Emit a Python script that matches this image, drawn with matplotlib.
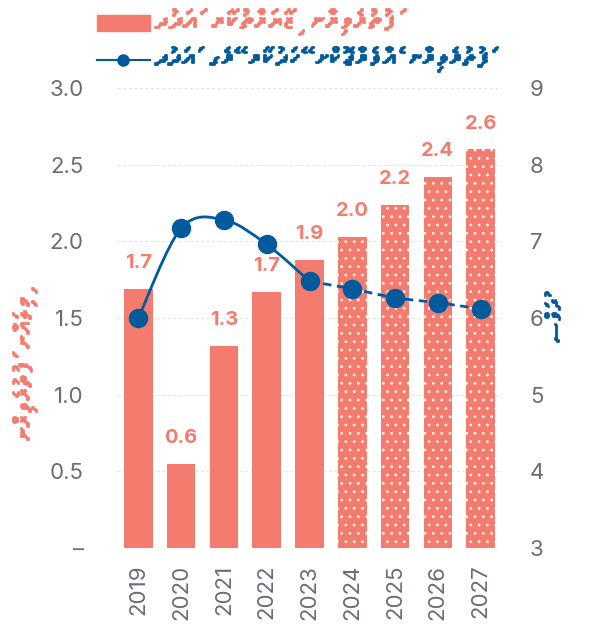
import numpy as np
import matplotlib
matplotlib.use("Agg")
import matplotlib.pyplot as plt
import matplotlib.patheffects as pe
from matplotlib import font_manager
from matplotlib.ft2font import FT2Font
from matplotlib.path import Path
from matplotlib.patches import PathPatch, Rectangle
from matplotlib.lines import Line2D

years = ["2019", "2020", "2021", "2022", "2023", "2024", "2025", "2026", "2027"]
arrivals = [1.69, 0.55, 1.32, 1.67, 1.88, 2.03, 2.24, 2.42, 2.60]
arrival_labels = ["1.7", "0.6", "1.3", "1.7", "1.9", "2.0", "2.2", "2.4", "2.6"]
stay_days = [6.0, 7.17, 7.28, 6.96, 6.48, 6.38, 6.26, 6.2, 6.12]
n_actual = 5  # 2019-2023 actual, rest projected

left_ticks = [0, 0.5, 1.0, 1.5, 2.0, 2.5, 3.0]
left_ticklabels = ["–", "0.5", "1.0", "1.5", "2.0", "2.5", "3.0"]
right_ticks = [3, 4, 5, 6, 7, 8, 9]

legend_bars = "ފަތުރުވެރިން ޒިޔާރަތްކުރާ އަދަދު"
legend_line = "ފަތުރުވެރިން އެވްރެޖްކޮށް ހޭދަކުރާ ރޭގެ އަދަދު"
left_label = "މިލިއަން ފަތުރުވެރިން"
right_label = "ދުވަސް"

BAR = "#F47C6E"
BLUE = "#005A9C"
GRAY = "#6B6A78"


def thaana_font():
    for f in font_manager.fontManager.ttflist:
        try:
            if 0x0786 in FT2Font(f.fname).get_charmap():
                return f.name
        except Exception:
            pass
    return "DejaVu Sans"


def rtl(s):
    # reverse base letters for display, keeping each vowel mark with its letter
    clusters = []
    for ch in s:
        if 0x07A6 <= ord(ch) <= 0x07B0 and clusters:
            clusters[-1] += ch
        else:
            clusters.append(ch)
    return "".join(reversed(clusters))


def thick(color):
    return [pe.withStroke(linewidth=1.3, foreground=color)]


tfont = thaana_font()
plt.rcParams["font.family"] = ["Inter", "DejaVu Sans"]
plt.rcParams["hatch.linewidth"] = 0.7
thaana = [tfont, "DejaVu Sans"]

fig = plt.figure(figsize=(5.97, 6.30), dpi=100)
ax = fig.add_axes([117 / 597, 1 - 548 / 630, 385 / 597, 460 / 630])
ax2 = ax.twinx()

x = np.arange(len(years))
for i in range(len(years)):
    if i < n_actual:
        ax.bar(x[i], arrivals[i], width=0.67, color=BAR, linewidth=0, zorder=2)
    else:
        ax.bar(x[i], arrivals[i], width=0.67, color=BAR, edgecolor="white",
               linewidth=0, hatch="..", zorder=2)
    ax.annotate(arrival_labels[i], (x[i], arrivals[i]), xytext=(0, 12),
                textcoords="offset points", ha="center", va="bottom",
                color=BAR, fontsize=14.5, fontweight="bold")

ax.set_xlim(-0.5, len(years) - 0.5)
ax.set_ylim(0, 3)
ax.set_yticks(left_ticks)
ax.set_yticklabels(left_ticklabels)
ax.set_xticks(x)
ax.set_xticklabels(years, rotation=90)
ax.grid(axis="y", color="#e4e4e4", linestyle=(0, (3, 2)), linewidth=0.8, zorder=0)
ax.set_axisbelow(True)

for a in (ax, ax2):
    for s in a.spines.values():
        s.set_visible(False)
    a.tick_params(length=0, colors=GRAY, labelsize=16)
ax.tick_params(axis="y", pad=24)
ax.tick_params(axis="x", pad=12)

ax2.set_ylim(3, 9)
ax2.set_yticks(right_ticks)
ax2.tick_params(axis="y", pad=20)

# smooth solid line through the actual years (catmull-rom as bezier)
pts = list(zip(x[:n_actual], stay_days[:n_actual]))
verts = [pts[0]]
codes = [Path.MOVETO]
for i in range(len(pts) - 1):
    p0 = np.array(pts[max(i - 1, 0)])
    p1 = np.array(pts[i])
    p2 = np.array(pts[i + 1])
    p3 = np.array(pts[min(i + 2, len(pts) - 1)])
    verts += [tuple(p1 + (p2 - p0) / 6), tuple(p2 - (p3 - p1) / 6), tuple(p2)]
    codes += [Path.CURVE4] * 3
ax2.add_patch(PathPatch(Path(verts, codes), facecolor="none", edgecolor=BLUE,
                        linewidth=2, zorder=3))
ax2.plot(x[n_actual - 1:], stay_days[n_actual - 1:], color=BLUE, linewidth=2,
         linestyle=(0, (3, 2)), zorder=3)
ax2.plot(x, stay_days, linestyle="none", marker="o", markersize=13,
         color=BLUE, zorder=4)

# axis titles
W, H = 597, 630
fig.text(25 / W, 1 - 367 / H, rtl(left_label), family=thaana, color=BAR,
         fontsize=19, rotation=90, ha="center", va="center", path_effects=thick(BAR))
fig.text(557 / W, 1 - 321 / H, rtl(right_label), family=thaana, color=BLUE,
         fontsize=16, rotation=90, ha="center", va="center", path_effects=thick(BLUE))

# legend, drawn by hand at the top
fig.patches.append(Rectangle((97 / W, 1 - 31 / H), 53 / W, 16 / H,
                             transform=fig.transFigure, color=BAR))
fig.lines.append(Line2D([97 / W, 150 / W], [1 - 60 / H, 1 - 60 / H],
                        transform=fig.transFigure, color=BLUE, linewidth=1.5))
fig.lines.append(Line2D([123 / W], [1 - 60 / H], transform=fig.transFigure,
                        color=BLUE, marker="o", markersize=8))
fig.text(155 / W, 1 - 22 / H, rtl(legend_bars), family=thaana, color=BAR,
         fontsize=20.5, ha="left", va="center", path_effects=thick(BAR))
fig.text(155 / W, 1 - 59 / H, rtl(legend_line), family=thaana, color=BLUE,
         fontsize=19.3, ha="left", va="center", path_effects=thick(BLUE))

fig.savefig("out.png", dpi=100)
